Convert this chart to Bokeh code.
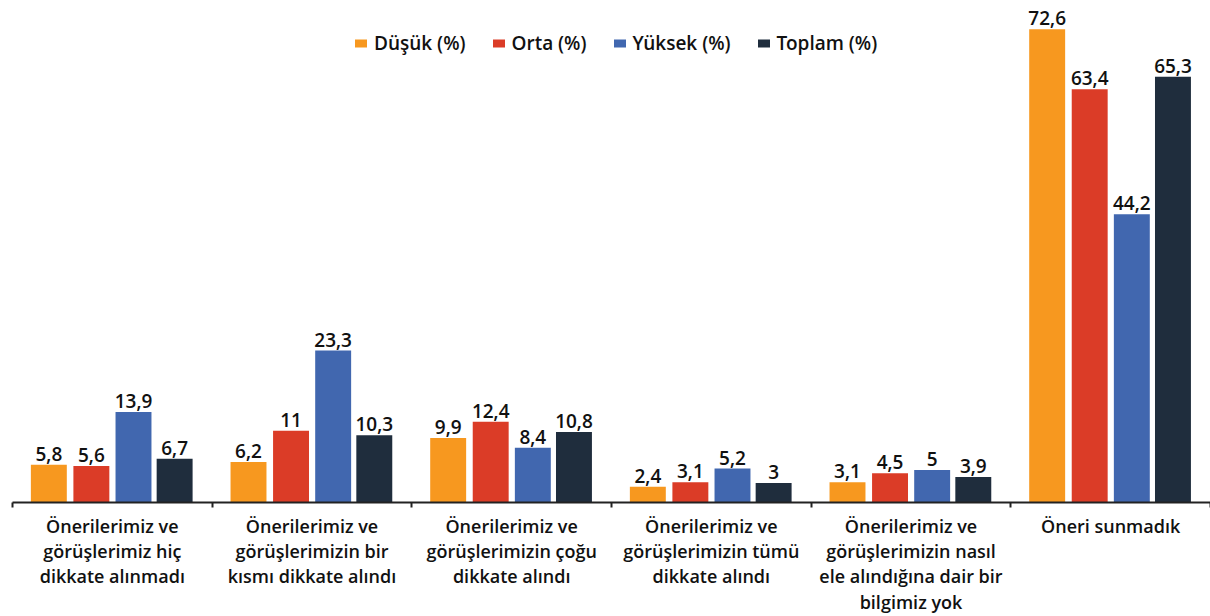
from bokeh.plotting import figure
from bokeh.models import ColumnDataSource, FixedTicker, Range1d, Legend, LegendItem
from bokeh.core.properties import value
from bokeh.embed import file_html
from bokeh.resources import INLINE

categories = [
    "Önerilerimiz ve\ngörüşlerimiz hiç\ndikkate alınmadı",
    "Önerilerimiz ve\ngörüşlerimizin bir\nkısmı dikkate alındı",
    "Önerilerimiz ve\ngörüşlerimizin çoğu\ndikkate alındı",
    "Önerilerimiz ve\ngörüşlerimizin tümü\ndikkate alındı",
    "Önerilerimiz ve\ngörüşlerimizin nasıl\nele alındığına dair bir\nbilgimiz yok",
    "Öneri sunmadık",
]
series_names = ["Düşük (%)", "Orta (%)", "Yüksek (%)", "Toplam (%)"]
dusuk = [5.8, 6.2, 9.9, 2.4, 3.1, 72.6]
orta = [5.6, 11, 12.4, 3.1, 4.5, 63.4]
yuksek = [13.9, 23.3, 8.4, 5.2, 5, 44.2]
toplam = [6.7, 10.3, 10.8, 3, 3.9, 65.3]
colors = ["#F7981F", "#DB3C27", "#4167AF", "#1F2D3D"]

FONT = "Open Sans SemiBold"

p = figure(width=1210, height=616, output_backend="svg", toolbar_location=None,
           x_range=Range1d(0, 6), y_range=Range1d(0, 77.0),
           min_border_left=12, min_border_right=0, min_border_top=0, min_border_bottom=0)
p.outline_line_color = None
p.grid.grid_line_color = None
p.yaxis.visible = False

centers = [i + 0.5 for i in range(len(categories))]
offsets = [-0.318, -0.105, 0.106, 0.312]
bar_w = 0.18

def fmt(v):
    s = ("%g" % v)
    return s.replace(".", ",")

items = []
for vals, name, col, off in zip([dusuk, orta, yuksek, toplam], series_names, colors, offsets):
    src = ColumnDataSource(dict(x=[c + off for c in centers], top=vals,
                                lbl=[fmt(v) for v in vals]))
    r = p.vbar(x="x", top="top", width=bar_w, source=src, color=col, line_color=None)
    p.text(x="x", y="top", text="lbl", source=src, text_align="center",
           text_baseline="bottom", y_offset=-4, text_font_size="19px",
           text_font=value(FONT), text_color="#111111")
    items.append(LegendItem(label=name, renderers=[r]))

legend = Legend(items=items, orientation="horizontal", location=(341, 446),
                border_line_color=None, background_fill_alpha=0,
                glyph_width=15, glyph_height=10, label_standoff=6, spacing=25,
                label_text_font=FONT, label_text_font_size="19px",
                label_text_color="#111111", margin=0, padding=0)
p.add_layout(legend, "center")

ax = p.xaxis[0]
ax.ticker = FixedTicker(ticks=centers, minor_ticks=list(range(7)))
ax.major_label_overrides = {c: lab for c, lab in zip(centers, categories)}
ax.major_tick_line_color = None
ax.minor_tick_line_color = "#222222"
ax.minor_tick_line_width = 2
ax.minor_tick_out = 5
ax.minor_tick_in = 0
ax.axis_line_color = "#222222"
ax.axis_line_width = 2
ax.major_label_text_font = FONT
ax.major_label_text_font_size = "18px"
ax.major_label_text_color = "#111111"
ax.major_label_text_line_height = 1.06
ax.major_label_standoff = 5

open("out.html", "w").write(file_html(p, INLINE))
